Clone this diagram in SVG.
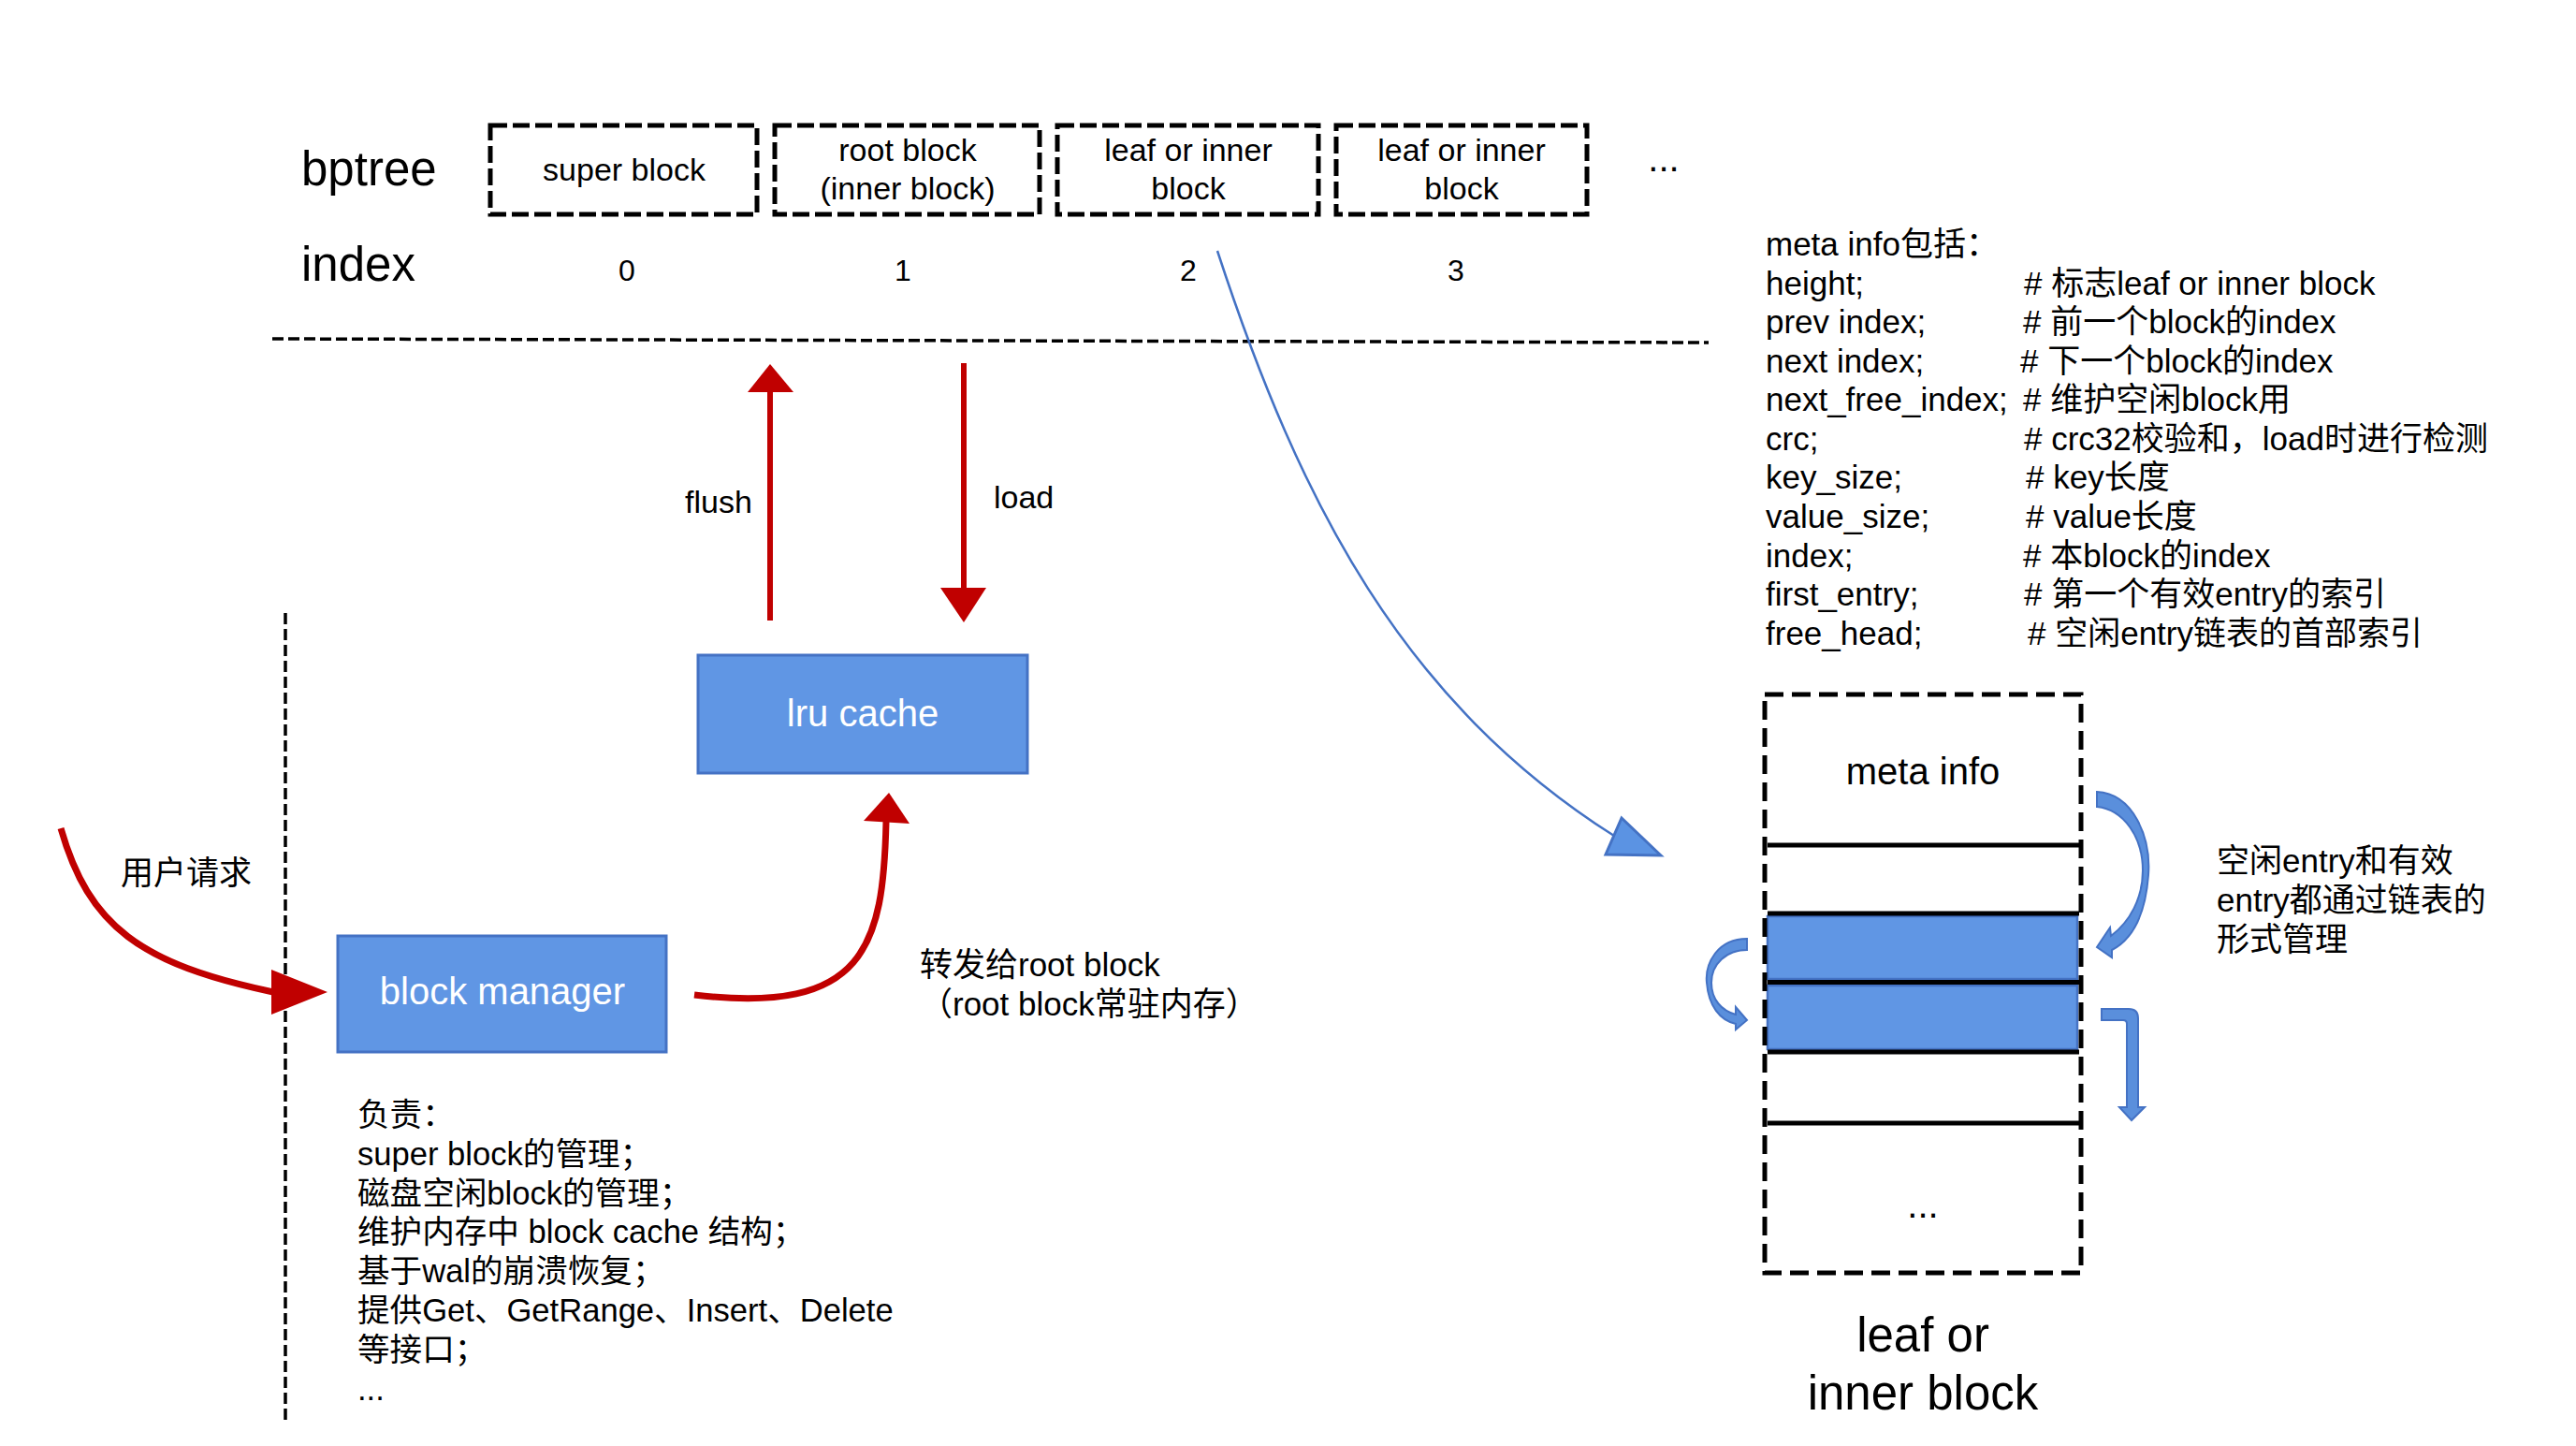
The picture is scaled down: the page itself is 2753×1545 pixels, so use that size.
<svg xmlns="http://www.w3.org/2000/svg" width="2753" height="1545" viewBox="0 0 2753 1545">
<style>
text{font-family:"Liberation Sans","Noto Sans CJK SC",sans-serif;fill:#000}
.t32{font-size:32px}
.t34{font-size:34px}
.t35{font-size:35px}
.big{font-size:51px}
.w40{font-size:40px;fill:#fff}
.m40{font-size:40px}
.mid{text-anchor:middle}
.dbox{fill:none;stroke:#000;stroke-width:5;stroke-dasharray:18 6}
.bbox{fill:#6096E4;stroke:#4472C4;stroke-width:3}
.red{fill:none;stroke:#C00000;stroke-width:7}
.redl{fill:none;stroke:#C00000;stroke-width:6}
.redh{fill:#C00000}
.bar{fill:#5A8FDC;stroke:#4472C4;stroke-width:2}
.sl{stroke:#000;stroke-width:5}
</style>
<rect width="2753" height="1545" fill="#fff"/>

<g id="row-labels">
<text class="big" x="322" y="198">bptree</text>
<text class="big" x="322" y="300">index</text>
</g>

<g id="super-block">
<rect class="dbox" x="524" y="134" width="285" height="95"/>
<text class="t34 mid" x="667" y="193">super block</text>
<text class="t32 mid" x="670" y="300">0</text>
</g>
<g id="root-block">
<rect class="dbox" x="828" y="134" width="283" height="95"/>
<text class="t34 mid" x="970" y="172">root block</text>
<text class="t34 mid" x="970" y="213">(inner block)</text>
<text class="t32 mid" x="965" y="300">1</text>
</g>
<g id="block-2">
<rect class="dbox" x="1130" y="134" width="279" height="95"/>
<text class="t34 mid" x="1270" y="172">leaf or inner</text>
<text class="t34 mid" x="1270" y="213">block</text>
<text class="t32 mid" x="1270" y="300">2</text>
</g>
<g id="block-3">
<rect class="dbox" x="1428" y="134" width="268" height="95"/>
<text class="t34 mid" x="1562" y="172">leaf or inner</text>
<text class="t34 mid" x="1562" y="213">block</text>
<text class="t32 mid" x="1556" y="300">3</text>
</g>
<g id="more-blocks">
<text class="mid" style="font-size:40px" x="1778" y="183">...</text>
</g>

<g id="separators">
<line x1="291" y1="362" x2="1826" y2="366" stroke="#000" stroke-width="3.5" stroke-dasharray="12 5"/>
<line x1="305" y1="655" x2="305" y2="1520" stroke="#000" stroke-width="3.5" stroke-dasharray="12 5"/>
</g>

<g id="meta-info-text" class="t35">
<text x="1887" y="273">meta info包括：</text>
<text x="1887" y="315">height;</text><text x="2163" y="315"># 标志leaf or inner block</text>
<text x="1887" y="356">prev index;</text><text x="2162" y="356"># 前一个block的index</text>
<text x="1887" y="398">next index;</text><text x="2159" y="398"># 下一个block的index</text>
<text x="1887" y="439">next_free_index;</text><text x="2162" y="439"># 维护空闲block用</text>
<text x="1887" y="481">crc;</text><text x="2163" y="481"># crc32校验和，load时进行检测</text>
<text x="1887" y="522">key_size;</text><text x="2165" y="522"># key长度</text>
<text x="1887" y="564">value_size;</text><text x="2165" y="564"># value长度</text>
<text x="1887" y="606">index;</text><text x="2162" y="606"># 本block的index</text>
<text x="1887" y="647">first_entry;</text><text x="2163" y="647"># 第一个有效entry的索引</text>
<text x="1887" y="689">free_head;</text><text x="2167" y="689"># 空闲entry链表的首部索引</text>
</g>

<g id="lru-cache">
<rect class="bbox" x="746" y="700" width="352" height="126"/>
<text class="w40 mid" x="922" y="776">lru cache</text>
</g>

<g id="block-manager">
<rect class="bbox" x="361" y="1000" width="351" height="124"/>
<text class="w40 mid" x="537" y="1073">block manager</text>
</g>

<g id="block-manager-notes" style="font-size:34.6px">
<text x="382" y="1203">负责：</text>
<text x="382" y="1245">super block的管理；</text>
<text x="382" y="1287">磁盘空闲block的管理；</text>
<text x="382" y="1328">维护内存中 block cache 结构；</text>
<text x="382" y="1370">基于wal的崩溃恢复；</text>
<text x="382" y="1412">提供Get、GetRange、Insert、Delete</text>
<text x="382" y="1454">等接口；</text>
<text x="382" y="1496">...</text>
</g>

<g id="labels" class="t35">
<text x="129" y="945">用户请求</text>
<text x="983" y="1043">转发给root block</text>
<text x="983" y="1085">（root block常驻内存）</text>
<text class="t34" x="732" y="548">flush</text>
<text class="t34" x="1062" y="543">load</text>
</g>

<g id="leaf-or-inner-block">
<rect x="1889" y="979" width="331" height="67" fill="#6096E4" stroke="#4472C4" stroke-width="2.5"/>
<rect x="1889" y="1053" width="331" height="68" fill="#6096E4" stroke="#4472C4" stroke-width="2.5"/>
<line class="sl" x1="1889" y1="903" x2="2224" y2="903"/>
<line class="sl" x1="1889" y1="976" x2="2222" y2="976"/>
<line class="sl" x1="1889" y1="1049.5" x2="2222" y2="1049.5"/>
<line class="sl" x1="1889" y1="1124" x2="2222" y2="1124"/>
<line class="sl" x1="1889" y1="1200" x2="2224" y2="1200"/>
<rect x="1886" y="742" width="338" height="618" fill="none" stroke="#000" stroke-width="5" stroke-dasharray="20 9"/>
<text class="m40 mid" x="2055" y="838">meta info</text>
<text class="m40 mid" x="2055" y="1301">...</text>
<text class="big mid" x="2055" y="1444">leaf or</text>
<text class="big mid" x="2055" y="1506">inner block</text>
</g>

<g id="entry-note" class="t35">
<text x="2369" y="932">空闲entry和有效</text>
<text x="2369" y="974">entry都通过链表的</text>
<text x="2369" y="1016">形式管理</text>
</g>

<g id="connectors">
<!-- index 2 to block detail -->
<path d="M1301,268 C1390,540 1500,750 1725,893" fill="none" stroke="#4472C4" stroke-width="2.5"/>
<polygon points="1775,914 1733,874 1716,913" fill="#5B93E3" stroke="#4472C4" stroke-width="3" stroke-linejoin="miter"/>
<!-- flush -->
<line class="redl" x1="823" y1="663" x2="823" y2="417"/>
<polygon class="redh" points="823,389 848,419 799,419"/>
<!-- load -->
<line class="redl" x1="1030" y1="388" x2="1030" y2="630"/>
<polygon class="redh" points="1030,665 1054,628 1005,628"/>
<!-- user request -->
<path class="red" d="M65,885 C95,990 150,1030 292,1060"/>
<polygon class="redh" points="350,1060 290,1036 290,1084"/>
<!-- forward to root block -->
<path class="red" d="M742,1063 C925,1085 944,1010 947,878"/>
<polygon class="redh" points="950,847 972,880 923,877"/>
<!-- entry list arrows -->
<path class="bar" d="M2241,846 C2280,848 2299,895 2296,935 C2293,975 2280,1003 2257,1015 L2257,1023 L2241,1012 L2255,991 L2256,1000 C2276,985 2290,960 2290,930 C2290,895 2270,865 2241,862 Z"/>
<path class="bar" d="M1867,1003 C1835,1003 1822,1030 1824,1050 C1826,1075 1838,1090 1855,1094 L1855,1100 L1867,1090 L1855,1076 L1855,1084 C1840,1080 1829,1068 1829,1050 C1829,1030 1845,1015 1867,1015 Z"/>
<path class="bar" d="M2246,1078 L2275,1078 Q2285,1078 2285,1088 L2285,1183 L2292,1183 L2278,1197 L2265,1183 L2273,1183 L2273,1094 Q2273,1090 2269,1090 L2246,1090 Z"/>
</g>
</svg>
